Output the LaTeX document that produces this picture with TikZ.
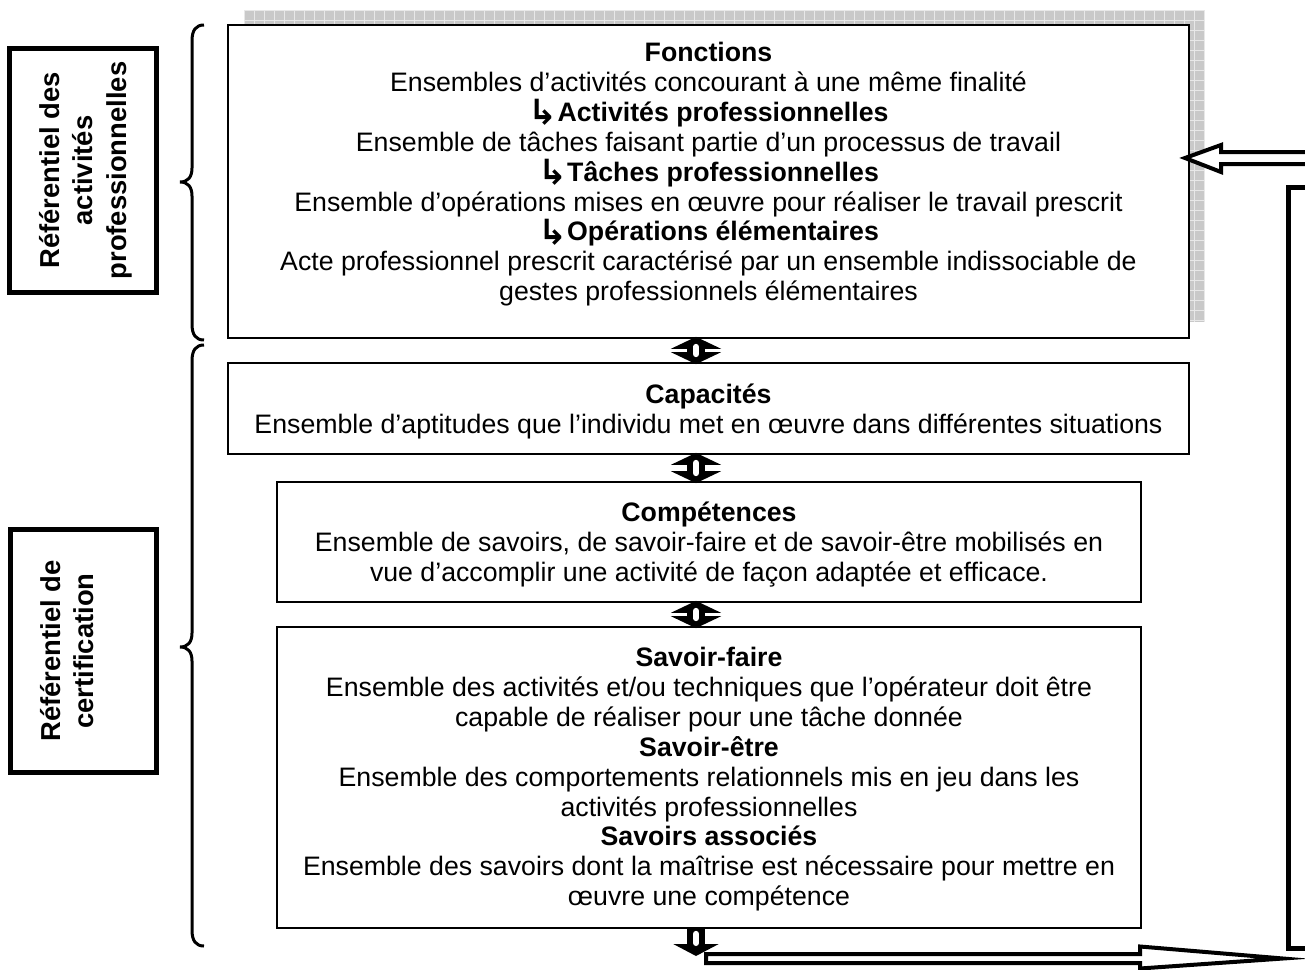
\documentclass[tikz,border=0pt]{standalone}
\usepackage{fontspec}
\setmainfont{Liberation Sans}
\newfontfamily\symfont{DejaVu Sans}
\usetikzlibrary{calc,arrows.meta}
\newcommand{\harr}{\raisebox{-0.12em}{\scalebox{1.3}{\symfont\bfseries ↳}}}
\begin{document}
\begin{tikzpicture}[x=0.02cm,y=-0.02cm,
  boxn/.style={draw, line width=0.035cm, fill=white, inner sep=0pt},
  body/.style={align=center, inner sep=0pt, font=\fontsize{15.2}{17}\selectfont},
  lab/.style={draw, line width=0.1cm, inner sep=0pt},
  labtxt/.style={rotate=90, align=center, inner sep=0pt, font=\fontsize{15.6}{19}\selectfont\bfseries},
  bracel/.style={line width=0.06cm},
  hollow/.style={line width=0.08cm, fill=white, line join=miter, miter limit=20},
  dbl/.style={line width=0.36cm, {Triangle[width=1cm,length=0.24cm]}-{Triangle[width=1cm,length=0.24cm]}},
  sgl/.style={line width=0.36cm, -{Triangle[width=0.9cm,length=0.24cm]}},
  slot/.style={white, line width=0.12cm, line cap=round},
  rgrid/.style={gray!18, line width=0.012cm}
]
\useasboundingbox (0,0) rectangle (1305,970);
\clip (0,0) rectangle (1305,970);

% shadow of the top box
\fill[gray!42] (244,10) rectangle (1205,322);
\foreach \i in {0,...,96} \draw[rgrid] (244+\i*10,10) -- (244+\i*10,322);
\foreach \j in {0,...,31} \draw[rgrid] (244,10+\j*10) -- (1205,10+\j*10);

% boxes
\node[boxn, minimum width=19.22cm, minimum height=6.26cm] (fonc) at (708.5,181.5) {};
\node[boxn, minimum width=19.22cm, minimum height=1.82cm] (cap) at (708.5,408.5) {};
\node[boxn, minimum width=17.28cm, minimum height=2.4cm] (comp) at (709,542) {};
\node[boxn, minimum width=17.28cm, minimum height=6.02cm] (sav) at (709,777.5) {};

% texts
\node[body, anchor=north] (fonct) at (708.5,42) {\textbf{Fonctions}\\
Ensembles d’activités concourant à une même finalité\\
\harr\textbf{Activités professionnelles}\\
Ensemble de tâches faisant partie d’un processus de travail\\
\harr\textbf{Tâches professionnelles}\\
Ensemble d’opérations mises en œuvre pour réaliser le travail prescrit\\
\harr\textbf{Opérations élémentaires}\\
Acte professionnel prescrit caractérisé par un ensemble indissociable de\\
gestes professionnels élémentaires};

\node[body, anchor=north] (capt) at (708.5,384) {\textbf{Capacités}\\
Ensemble d’aptitudes que l’individu met en œuvre dans différentes situations};

\node[body, anchor=north] (compt) at (709,502) {\textbf{Compétences}\\
Ensemble de savoirs, de savoir-faire et de savoir-être mobilisés en\\
vue d’accomplir une activité de façon adaptée et efficace.};

\node[body, anchor=north] (savt) at (709,647) {\textbf{Savoir-faire}\\
Ensemble des activités et/ou techniques que l’opérateur doit être\\
capable de réaliser pour une tâche donnée\\
\textbf{Savoir-être}\\
Ensemble des comportements relationnels mis en jeu dans les\\
activités professionnelles\\
\textbf{Savoirs associés}\\
Ensemble des savoirs dont la maîtrise est nécessaire pour mettre en\\
œuvre une compétence};

% double arrows between boxes
\coordinate (ax) at (696,0);
\draw[dbl] ($(fonc.south -| ax)+(0,-2)$) -- ($(cap.north -| ax)+(0,2)$);
\draw[slot] ($(fonc.south -| ax)+(0,8)$) -- ($(cap.north -| ax)+(0,-8)$);
\draw[dbl] ($(cap.south -| ax)+(0,-2)$) -- ($(comp.north -| ax)+(0,2)$);
\draw[slot] ($(cap.south -| ax)+(0,8)$) -- ($(comp.north -| ax)+(0,-8)$);
\draw[dbl] ($(comp.south -| ax)+(0,-2)$) -- ($(sav.north -| ax)+(0,2)$);
\draw[slot] ($(comp.south -| ax)+(0,8)$) -- ($(sav.north -| ax)+(0,-8)$);

% down arrow from the last box
\coordinate (dn) at (696,956);
\draw[sgl] (sav.south -| ax) -- (dn);
\draw[slot] ($(sav.south -| ax)+(0,5)$) -- ($(dn)+(0,-13)$);

% right thick frame
\node[lab, minimum width=0.9cm, minimum height=15.22cm, anchor=north west] (rbox) at (1286,185) {};

% bottom hollow arrow
\coordinate (bst) at (706,958.5);
\coordinate (btip) at (1283,958.5);
\draw[hollow] ($(bst)+(0,-4.5)$) -- ($(btip)+(-143,-4.5)$) -- ($(btip)+(-143,-12)$) -- (btip)
  -- ($(btip)+(-143,10)$) -- ($(btip)+(-143,4.5)$) -- ($(bst)+(0,4.5)$) -- cycle;

% top hollow arrow
\coordinate (tst) at (1330,158);
\coordinate (ttip) at (1185,158);
\draw[hollow] ($(tst)+(0,-6)$) -- ($(ttip)+(36,-6)$) -- ($(ttip)+(36,-13)$) -- (ttip)
  -- ($(ttip)+(36,14)$) -- ($(ttip)+(36,6)$) -- ($(tst)+(0,6)$);

% braces
\draw[bracel] (204,25) .. controls (196,25) and (192,30) .. (192,41) -- (192,168)
  .. controls (192,177) and (188,182) .. (180,182) .. controls (188,182) and (192,187) .. (192,196)
  -- (192,324) .. controls (192,335) and (196,340) .. (204,340);
\draw[bracel] (204,345) .. controls (196,345) and (192,350) .. (192,361) -- (192,633)
  .. controls (192,642) and (188,647) .. (180,647) .. controls (188,647) and (192,652) .. (192,661)
  -- (192,930) .. controls (192,941) and (196,946) .. (204,946);

% side labels
\node[lab, minimum width=2.96cm, minimum height=4.9cm] (lab1) at (83,170.5) {};
\node[labtxt, anchor=north] (lab1t) at (39,170.5) {Référentiel des\\activités\\professionnelles};
\node[lab, minimum width=2.94cm, minimum height=4.88cm] (lab2) at (83.5,651) {};
\node[labtxt, anchor=north] (lab2t) at (40,651) {Référentiel de\\certification};
\end{tikzpicture}
\end{document}
